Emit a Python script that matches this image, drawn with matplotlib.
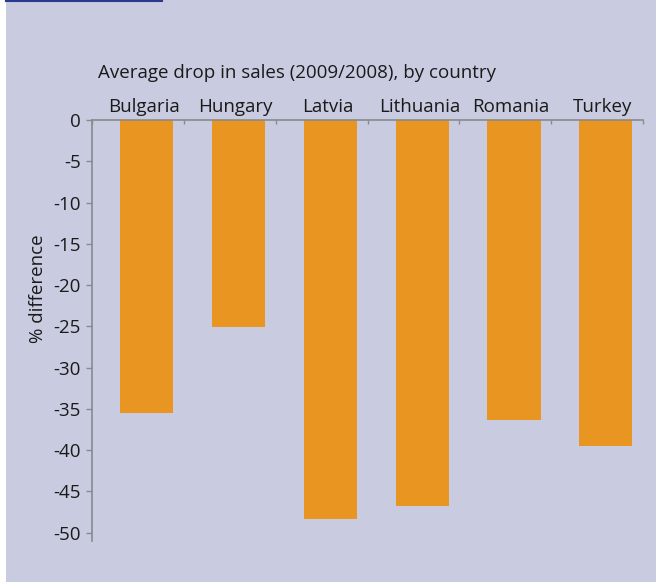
import matplotlib
matplotlib.use("Agg")
import matplotlib.pyplot as plt
from matplotlib.lines import Line2D

#---------------------------------------------------
#------------------------data-----------------------
#---------------------------------------------------
countries = ["Bulgaria", "Hungary", "Latvia", "Lithuania", "Romania", "Turkey"]
drop_pct = [-35.5, -25.1, -48.3, -46.7, -36.3, -39.5]
y_ticks = [0, -5, -10, -15, -20, -25, -30, -35, -40, -45, -50]

TITLE = "Average drop in sales (2009/2008), by country"
Y_LABEL = "% difference"

#---------------------------------------------------
#-----------------------styles----------------------
#---------------------------------------------------
BG = "#c9cce0"
BAR = "#e89522"
AXIS = "#8a8a8a"
TEXT = "#1a1a1a"
FS = 13.5
plt.rcParams['font.family'] = ['Open Sans', 'DejaVu Sans']

W, H = 656, 582
fig = plt.figure(figsize=(W / 100, H / 100), dpi=100)
fig.patch.set_facecolor("white")

# lavender panel with small white strip on the left
fig.patches.append(plt.Rectangle((6 / W, 0), 1, 1, transform=fig.transFigure,
                                 facecolor=BG, edgecolor="none", zorder=-10))
# dark blue line top-left
fig.lines.append(Line2D([6 / W, 162 / W], [1 - 1 / H, 1 - 1 / H], transform=fig.transFigure,
                        color="#2b3a8c", linewidth=1.5, zorder=-5))

ax = fig.add_axes([92 / W, 1 - 541 / H, (643 - 92) / W, (541 - 120) / H])
ax.set_facecolor("none")
ax.set_zorder(1)

# bars sit slightly right of slot centre
x = [i + 0.595 for i in range(len(countries))]
ax.bar(x, drop_pct, width=0.58, color=BAR, zorder=2)

ax.set_xlim(0, len(countries))
ax.set_ylim(-51, 0)

# spines
for s in ["right", "bottom"]:
    ax.spines[s].set_visible(False)
ax.spines["left"].set_color(AXIS)
ax.spines["top"].set_color(AXIS)
ax.spines["left"].set_linewidth(1.2)
ax.spines["top"].set_linewidth(1.2)

# y axis
ax.set_yticks(y_ticks)
ax.set_yticklabels([str(v) for v in y_ticks])
ax.tick_params(axis="y", direction="out", length=4, color=AXIS, width=1,
               labelsize=FS, labelcolor=TEXT, pad=4)
ax.set_ylabel(Y_LABEL, fontsize=FS, color=TEXT)
ax.yaxis.set_label_coords(-(92 - 47) / (643 - 92), 1 - (289 - 120) / (541 - 120))

# x ticks at slot borders on the top line, pointing down
ax.xaxis.tick_top()
ax.set_xticks(range(len(countries) + 1))
ax.set_xticklabels([])
ax.tick_params(axis="x", direction="in", length=3, color=AXIS, width=1)

# category names above the zero line
for xi, name in zip(x, countries):
    ax.text(xi - 0.03, 1.01, name, transform=ax.get_xaxis_transform(),
            ha="center", va="bottom", fontsize=FS, color=TEXT)

fig.text(98 / W, 1 - 73 / H, TITLE, ha="left", va="center", fontsize=FS, color=TEXT)

fig.savefig("out.png", dpi=100, facecolor=fig.get_facecolor())
